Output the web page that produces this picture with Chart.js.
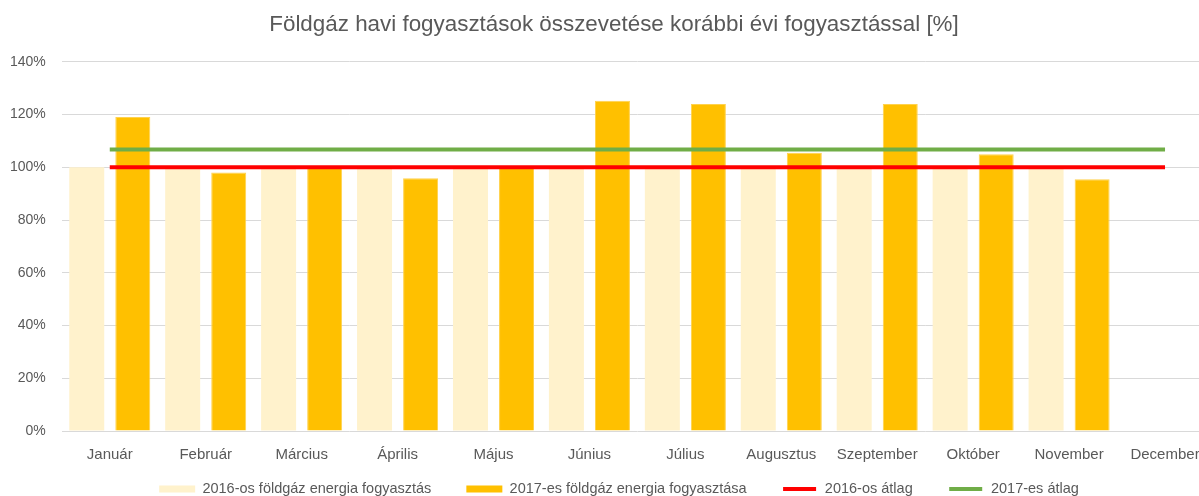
<!DOCTYPE html>
<html>
<head>
<meta charset="utf-8">
<script src="https://cdn.jsdelivr.net/npm/chart.js@4/dist/chart.umd.min.js"></script>
<style>
  html, body { margin: 0; padding: 0; background: #fff; overflow: hidden; }
  #wrap { width: 1228px; height: 496px; }
</style>
</head>
<body>
<div id="wrap"><canvas id="gasChart"></canvas></div>
<script>
// Hónapok és értékek (%)
const months = ['Január', 'Február', 'Március', 'Április', 'Május', 'Június',
    'Július', 'Augusztus', 'Szeptember', 'Október', 'November', 'December'];
const gas2016 = [100, 100, 100, 100, 100, 100, 100, 100, 100, 100, 100, null];
const gas2017 = [119.1, 98.0, 100.2, 95.9, 99.9, 125.3, 124.0, 105.5, 124.0, 105.0, 95.5, null];
const avg2016 = [100, 100, 100, 100, 100, 100, 100, 100, 100, 100, 100, 100];
const avg2017 = [106.8, 106.8, 106.8, 106.8, 106.8, 106.8, 106.8, 106.8, 106.8, 106.8, 106.8, 106.8];
const yTicks = [0, 20, 40, 60, 80, 100, 120, 140];

const fontFamily = "'Liberation Sans', Arial, sans-serif";
const grey = '#595959';

// cím és jelmagyarázat igazítása az Excel-es elrendezéshez
const layoutFix = {
    id: 'layoutFix',
    afterInit(chart) {
        const lg = chart.legend;
        const fit = lg.fit.bind(lg);
        lg.fit = function () { fit(); this.height -= 42.5; };
    },
    afterLayout(chart) {
        const t = chart.titleBlock;
        t.left += 10.5;
        t.right += 10.5;
        const lg = chart.legend;
        lg.left += 15.5;
        lg.right += 15.5;
        lg.top = 446.75;
        lg.bottom = 496;
        lg.height = lg.bottom - lg.top;
    }
};

const ctx = document.getElementById('gasChart').getContext('2d');
const chart = new Chart(ctx, {
    type: 'bar',
    data: {
        labels: months,
        datasets: [
            {
                label: '2016-os földgáz energia fogyasztás',
                data: gas2016,
                backgroundColor: '#FFF2CC',
                categoryPercentage: 0.96,
                barPercentage: 0.76,
                order: 2
            },
            {
                label: '2017-es földgáz energia fogyasztása',
                data: gas2017,
                backgroundColor: '#FFC000',
                borderColor: '#FFD24D',
                borderWidth: 1,
                categoryPercentage: 0.96,
                barPercentage: 0.76,
                order: 2
            },
            {
                type: 'line',
                label: '2016-os átlag',
                data: avg2016,
                borderColor: '#FF0000',
                backgroundColor: '#FF0000',
                borderWidth: 4,
                pointRadius: 0,
                fill: false,
                order: 1
            },
            {
                type: 'line',
                label: '2017-es átlag',
                data: avg2017,
                borderColor: '#70AD47',
                backgroundColor: '#70AD47',
                borderWidth: 4,
                pointRadius: 0,
                fill: false,
                order: 1
            }
        ]
    },
    plugins: [layoutFix],
    options: {
        responsive: true,
        maintainAspectRatio: false,
        animation: false,
        layout: { padding: { left: -6, right: 15, top: 6, bottom: 0 } },
        plugins: {
            title: {
                display: true,
                text: 'Földgáz havi fogyasztások összevetése korábbi évi fogyasztással [%]',
                color: grey,
                font: { family: fontFamily, size: 22.4, weight: 'normal' },
                padding: { top: 5, bottom: 24 }
            },
            tooltip: { enabled: false },
            legend: {
                position: 'bottom',
                labels: {
                    color: grey,
                    font: { family: fontFamily, size: 14.5 },
                    boxWidth: 36,
                    boxHeight: 7,
                    padding: 35,
                    generateLabels: (c) => c.data.datasets.map((ds, i) => {
                        const isLine = ds.type === 'line';
                        return {
                            text: ds.label,
                            fillStyle: ds.backgroundColor,
                            strokeStyle: '#ffffff',
                            lineWidth: isLine ? 3 : 0,
                            fontColor: grey,
                            hidden: false,
                            datasetIndex: i
                        };
                    })
                }
            }
        },
        scales: {
            x: {
                grid: { display: false, drawTicks: false },
                border: { display: false },
                ticks: {
                    color: grey,
                    font: { family: fontFamily, size: 15 },
                    maxRotation: 0,
                    autoSkip: false,
                    padding: 15
                }
            },
            y: {
                min: 0,
                max: 140,
                afterBuildTicks: (axis) => { axis.ticks = yTicks.map(v => ({ value: v })); },
                grid: { color: '#D9D9D9', lineWidth: 1, drawTicks: false },
                border: { display: false },
                ticks: {
                    color: grey,
                    font: { family: fontFamily, size: 14 },
                    padding: 16,
                    callback: (v) => v + '%'
                }
            }
        }
    }
});
</script>
</body>
</html>
